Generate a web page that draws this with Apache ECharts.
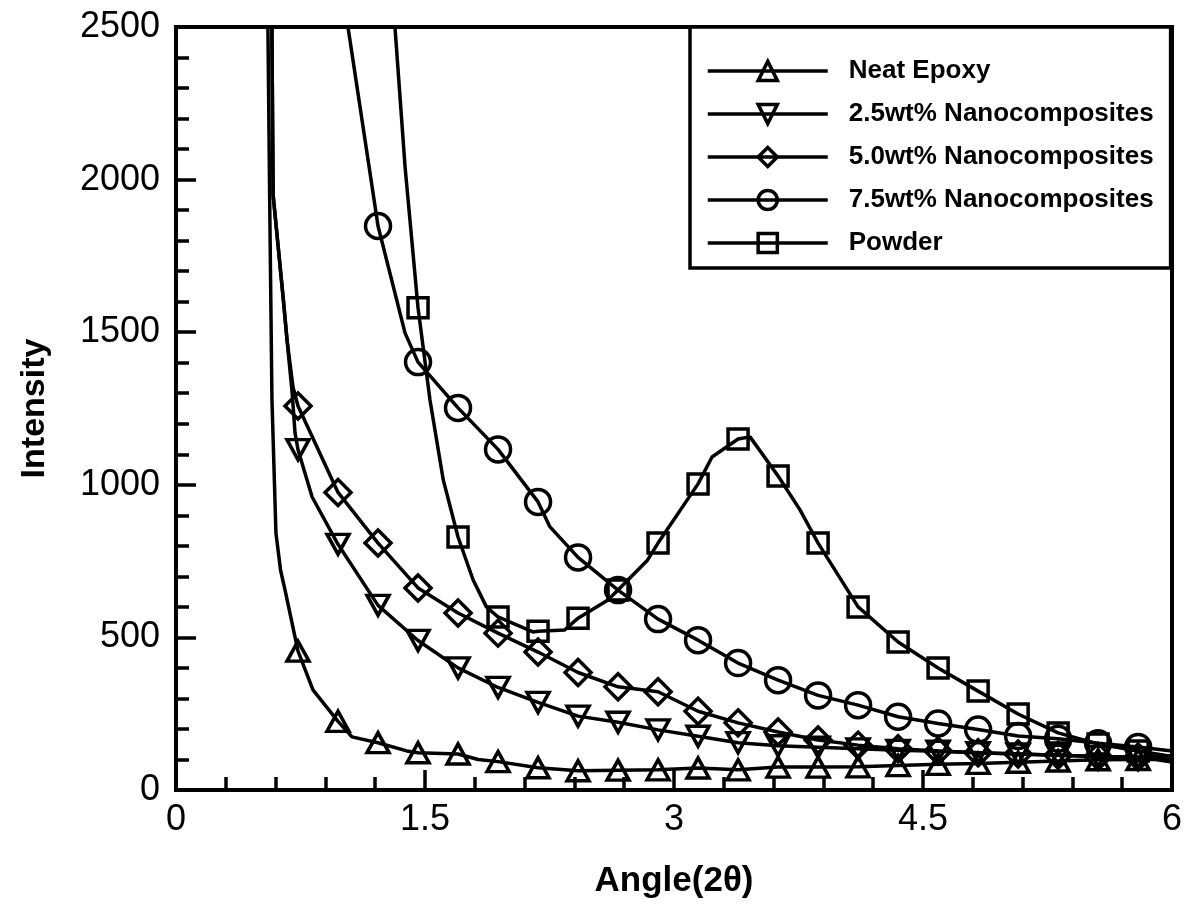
<!DOCTYPE html>
<html>
<head>
<meta charset="utf-8">
<script src="https://cdn.jsdelivr.net/npm/echarts@6/dist/echarts.min.js"></script>
<style>
  html, body { margin: 0; padding: 0; background: #fff; }
  #chart { width: 1190px; height: 910px; }
</style>
</head>
<body>
<div id="chart"></div>
<script>
// marker positions (every marked point of the curves sits on this grid)
var markerX = [0.735, 0.976, 1.217, 1.458, 1.699, 1.94, 2.181, 2.422, 2.663, 2.904, 3.145,
  3.386, 3.627, 3.868, 4.109, 4.35, 4.591, 4.832, 5.073, 5.314, 5.555, 5.796];

var seriesNames = ['Neat Epoxy', '2.5wt% Nanocomposites', '5.0wt% Nanocomposites', '7.5wt% Nanocomposites', 'Powder'];

// Neat Epoxy
var neatX = [0.55, 0.565, 0.578, 0.602, 0.63, 0.657, 0.735, 0.825, 0.976, 1.06, 1.217, 1.39, 1.458,
  1.699, 1.82, 1.94, 2.181, 2.422, 2.663, 2.904, 3.145, 3.386, 3.627, 3.868, 4.109, 4.35, 4.591,
  4.832, 5.073, 5.314, 5.555, 5.796, 5.9, 6.0];
var neatY = [2700, 1900, 1280, 842, 720, 655, 455, 328, 225, 174, 155, 128, 122,
  118, 100, 93, 73, 63, 65, 66, 72, 66, 75, 75, 76, 80, 84,
  87, 91, 95, 99, 100, 100, 92];

// 2.5wt%
var wt25X = [0.575, 0.585, 0.647, 0.669, 0.70, 0.717, 0.735, 0.82, 0.976, 1.217, 1.458, 1.699, 1.94,
  2.181, 2.422, 2.663, 2.904, 3.145, 3.386, 3.627, 3.868, 4.109, 4.35, 4.591, 4.832, 5.073,
  5.314, 5.555, 5.796, 6.0];
var wt25Y = [2700, 1950, 1605, 1474, 1300, 1170, 1115, 960, 805, 605, 490, 400, 336,
  287, 242, 222, 197, 176, 155, 145, 140, 135, 130, 127, 122, 118,
  114, 110, 106, 100];

// 5.0wt%
var wt50X = [0.575, 0.585, 0.647, 0.669, 0.705, 0.735, 0.976, 1.217, 1.458, 1.699, 1.94, 2.181,
  2.422, 2.663, 2.904, 3.145, 3.386, 3.627, 3.868, 4.109, 4.35, 4.591, 4.832, 5.073, 5.314,
  5.555, 5.796, 6.0];
var wt50Y = [2700, 1950, 1605, 1474, 1320, 1258, 975, 809, 662, 580, 514, 452,
  385, 338, 322, 258, 220, 190, 164, 147, 135, 128, 122, 118, 114,
  110, 108, 112];

// 7.5wt%
var wt75X = [1.025, 1.036, 1.217, 1.38, 1.458, 1.699, 1.94, 2.181, 2.253, 2.422, 2.663, 2.904,
  3.145, 3.386, 3.627, 3.868, 4.109, 4.35, 4.591, 4.832, 5.073, 5.314, 5.555, 5.796, 6.0];
var wt75Y = [2540, 2500, 1848, 1497, 1402, 1252, 1116, 944, 862, 762, 655, 560,
  491, 416, 360, 310, 278, 240, 218, 198, 177, 168, 153, 141, 128];

// Powder
var powderX = [1.312, 1.319, 1.38, 1.458, 1.53, 1.61, 1.699, 1.79, 1.87, 1.94, 2.15, 2.181, 2.34,
  2.422, 2.6, 2.663, 2.84, 2.904, 3.145, 3.229, 3.386, 3.458, 3.627, 3.76, 3.868, 4.109, 4.35,
  4.591, 4.832, 5.073, 5.314, 5.555, 5.796, 6.0];
var powderY = [2560, 2500, 2041, 1580, 1278, 1016, 829, 688, 600, 567, 518, 520, 524,
  563, 622, 655, 753, 809, 1003, 1091, 1150, 1157, 1029, 917, 809, 600, 485,
  400, 324, 249, 187, 151, 128, 110];

// axis ticks
var xMin = 0, xMax = 6, xStep = 1.5;
var yMin = 0, yMax = 2500, yStep = 500;

var FONT = "'Liberation Sans', Arial, Helvetica, sans-serif";

function buildData(xs, ys) {
  return xs.map(function (x, i) {
    var marked = markerX.some(function (m) { return Math.abs(m - x) < 1e-6; });
    return marked ? [x, ys[i]] : { value: [x, ys[i]], symbol: 'none' };
  });
}

function lineSeries(name, xs, ys, symbol, size, rotate) {
  return {
    name: name,
    type: 'line',
    data: buildData(xs, ys),
    symbol: symbol,
    symbolSize: size,
    symbolRotate: rotate || 0,
    showSymbol: true,
    showAllSymbol: true,
    clip: true,
    lineStyle: { color: '#000', width: 3.5 },
    itemStyle: { color: 'rgba(0,0,0,0)', borderColor: '#000', borderWidth: 3.5 },
    emphasis: { disabled: true }
  };
}

var chart = echarts.init(document.getElementById('chart'));
var option = {
  animation: false,
  backgroundColor: '#fff',
  grid: {
    left: 176, right: 18, top: 27, bottom: 120,
    show: true, borderColor: '#000', borderWidth: 4
  },
  legend: {
    orient: 'vertical',
    left: 690, top: 27,
    data: seriesNames,
    itemWidth: 120, itemHeight: 24, itemGap: 17,
    padding: [31, 17, 12, 16],
    borderColor: '#000', borderWidth: 3.5,
    backgroundColor: '#fff',
    lineStyle: { color: '#000', width: 3.5 },
    itemStyle: { color: 'rgba(0,0,0,0)', borderColor: '#000', borderWidth: 3.5 },
    textStyle: { color: '#000', fontSize: 26, fontWeight: 'bold', fontFamily: FONT, padding: [0, 0, 0, 16] }
  },
  xAxis: {
    type: 'value',
    min: xMin, max: xMax, interval: xStep,
    name: 'Angle(2θ)', nameLocation: 'middle', nameGap: 74,
    nameTextStyle: { color: '#000', fontSize: 35, fontWeight: 'bold', fontFamily: FONT },
    axisLine: { show: true, lineStyle: { color: '#000', width: 4 } },
    axisTick: { show: true, inside: true, length: 20, lineStyle: { color: '#000', width: 3.5 } },
    minorTick: { show: true, splitNumber: 5, length: 13, lineStyle: { color: '#000', width: 3.5 } },
    axisLabel: { color: '#000', fontSize: 36, fontFamily: FONT, margin: 12 },
    splitLine: { show: false }
  },
  yAxis: {
    type: 'value',
    min: yMin, max: yMax, interval: yStep,
    name: 'Intensity', nameLocation: 'middle', nameGap: 124,
    nameTextStyle: { color: '#000', fontSize: 34, fontWeight: 'bold', fontFamily: FONT },
    axisLine: { show: true, lineStyle: { color: '#000', width: 4 } },
    axisTick: { show: true, inside: true, length: 20, lineStyle: { color: '#000', width: 3.5 } },
    minorTick: { show: true, splitNumber: 5, length: 13, lineStyle: { color: '#000', width: 3.5 } },
    axisLabel: {
      color: '#000', fontSize: 36, fontFamily: FONT, margin: 16,
      formatter: function (v) { return String(v); }
    },
    splitLine: { show: false }
  },
  series: [
    lineSeries(seriesNames[0], neatX, neatY, 'triangle', [22, 20]),
    lineSeries(seriesNames[1], wt25X, wt25Y, 'triangle', [22, 20], 180),
    lineSeries(seriesNames[2], wt50X, wt50Y, 'diamond', [26, 26]),
    lineSeries(seriesNames[3], wt75X, wt75Y, 'circle', 25),
    lineSeries(seriesNames[4], powderX, powderY, 'rect', [20, 20])
  ]
};
chart.setOption(option);
</script>
</body>
</html>
